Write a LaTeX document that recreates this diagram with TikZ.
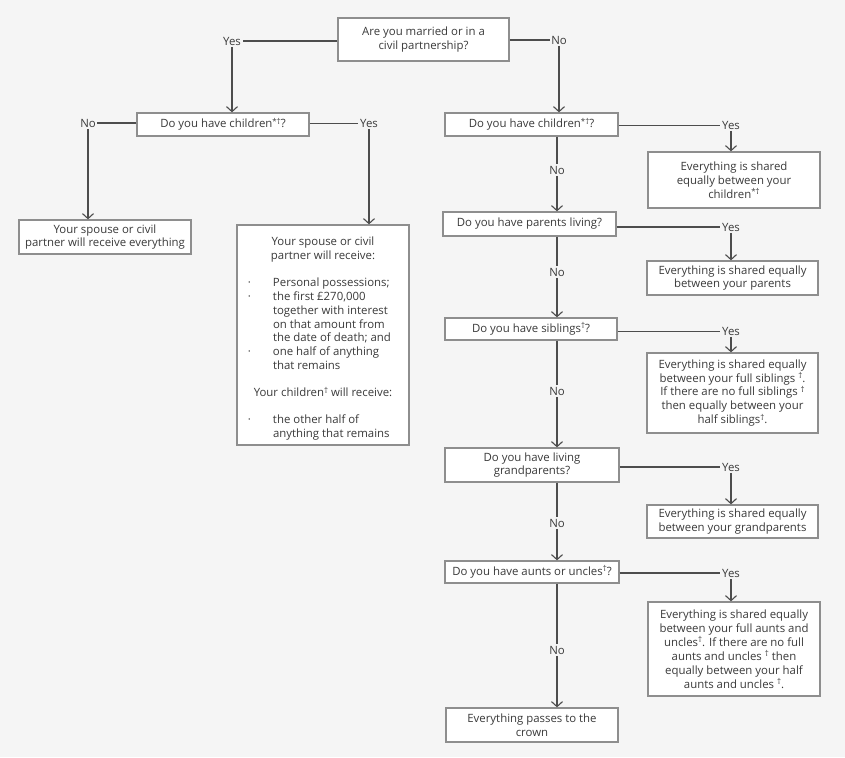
\documentclass[tikz,border=0pt]{standalone}
\usepackage{fontspec}
\setmainfont{Open Sans}
\usetikzlibrary{arrows.meta}
\definecolor{bg}{HTML}{F5F5F5}
\definecolor{lncol}{HTML}{4D4D4D}
\definecolor{bxcol}{HTML}{8E8E8E}
\definecolor{txcol}{HTML}{3A3A3A}
\newcommand\fsz{\fontsize{11.4}{13.9}\selectfont}
\newcommand\sdag{\raisebox{3.5pt}{\fontsize{8}{8}\selectfont †}}
\newcommand\sstar{\raisebox{3.5pt}{\fontsize{8}{8}\selectfont *†}}
\newcommand\bl{\leavevmode\llap{·\hspace{22pt}}}
\begin{document}
\begin{tikzpicture}[x=1pt,y=-1pt,
 box/.style={draw=bxcol, line width=1.3pt, fill=white, text=txcol, align=center, inner sep=1pt, font=\fsz},
 lbl/.style={text=txcol, inner sep=1.5pt, font=\fsz},
 thick line/.style={draw=lncol, line width=2pt},
 thin line/.style={draw=lncol, line width=1pt},
 arr/.style={draw=lncol, line width=2pt, -{Straight Barb[length=5pt,width=11pt,line width=1.1pt]}}]
\fill[bg] (0,0) rectangle (845,757);
\useasboundingbox (0,0) rectangle (845,757);

% boxes
\node[box, minimum width=171, minimum height=43] (top) at (423.5,39.5) {Are you married or in a\\civil partnership?};
\node[box, minimum width=172, minimum height=23] (lch) at (223,124.5) {Do you have children\sstar?};
\node[box, minimum width=172, minimum height=34] (lres) at (105,237) {Your spouse or civil\\partner will receive everything};
\node[box, minimum width=172, minimum height=220, inner sep=0pt] (big) at (323,335) {\begin{minipage}{172pt}\fsz\color{txcol}
\vspace*{7pt}
\centering Your spouse or civil\\ partner will receive:\par
\vspace{13pt}
{\raggedright\leftskip=36pt
\bl Personal possessions;\\
\bl the first £270,000\\
together with interest\\
on that amount from\\
the date of death; and\\
\bl one half of anything\\
that remains\par}
\vspace{13pt}
{\centering Your children\sdag{} will receive:\par}
\vspace{13pt}
{\raggedright\leftskip=36pt
\bl the other half of\\
anything that remains\par}
\end{minipage}};

\node[box, minimum width=173, minimum height=23] (rch) at (531.5,124.5) {Do you have children\sstar?};
\node[box, minimum width=172, minimum height=56] (rchres) at (734,180) {Everything is shared\\equally between your\\children\sstar};
\node[box, minimum width=173, minimum height=24] (par) at (529.5,224) {Do you have parents living?};
\node[box, minimum width=171, minimum height=34] (parres) at (732.5,278) {Everything is shared equally\\between your parents};
\node[box, minimum width=172, minimum height=22] (sib) at (531,329) {Do you have siblings\sdag?};
\node[box, minimum width=171, minimum height=80] (sibres) at (732.5,393) {Everything is shared equally\\between your full siblings \sdag.\\If there are no full siblings \sdag\\then equally between your\\half siblings\sdag.};
\node[box, minimum width=174, minimum height=34] (gp) at (532,465) {Do you have living\\grandparents?};
\node[box, minimum width=171, minimum height=33] (gpres) at (732.5,521.5) {Everything is shared equally\\between your grandparents};
\node[box, minimum width=174, minimum height=22] (au) at (532,572) {Do you have aunts or uncles\sdag?};
\node[box, minimum width=172, minimum height=94] (aures) at (734,649) {Everything is shared equally\\between your full aunts and\\uncles\sdag. If there are no full\\aunts and uncles \sdag{} then\\equally between your half\\aunts and uncles \sdag.};
\node[box, minimum width=172, minimum height=34] (crown) at (532,725) {Everything passes to the\\crown};

% labels
\node[lbl] (ytop) at (232,41) {Yes};
\node[lbl] (ntop) at (559,40) {No};
\node[lbl] (lno) at (88,123) {No};
\node[lbl] (lyes) at (369,123) {Yes};
\node[lbl] (y1) at (731,125) {Yes};
\node[lbl] (y2) at (731,227) {Yes};
\node[lbl] (y3) at (731,331) {Yes};
\node[lbl] (y4) at (731,467) {Yes};
\node[lbl] (y5) at (731,573) {Yes};
\node[lbl] (n1) at (557,170) {No};
\node[lbl] (n2) at (557,272) {No};
\node[lbl] (n3) at (557,391) {No};
\node[lbl] (n4) at (557,523) {No};
\node[lbl] (n5) at (557,650) {No};

% connectors
\draw[thick line] (top.west |- ytop) -- (ytop.east);
\draw[arr] (ytop.south) -- (ytop.south |- lch.north);
\draw[thick line] (top.east |- ntop) -- (ntop.west);
\draw[arr] (ntop.south) -- (ntop.south |- rch.north);

\draw[thick line] (lch.west |- lno) -- (lno.east);
\draw[arr] (lno.south) -- (lno.south |- lres.north);
\draw[thin line] (lch.east |- lyes) -- (lyes.west);
\draw[arr] (lyes.south) -- (lyes.south |- big.north);

\draw[thin line] (rch.east |- y1) -- (y1.west);
\draw[arr] (y1.south) -- (y1.south |- rchres.north);
\draw[thick line] (par.east |- y2) -- (y2.west);
\draw[arr] (y2.south) -- (y2.south |- parres.north);
\draw[thin line] (sib.east |- y3) -- (y3.west);
\draw[arr] (y3.south) -- (y3.south |- sibres.north);
\draw[thick line] (gp.east |- y4) -- (y4.west);
\draw[arr] (y4.south) -- (y4.south |- gpres.north);
\draw[thick line] (au.east |- y5) -- (y5.west);
\draw[arr] (y5.south) -- (y5.south |- aures.north);

\draw[thick line] (rch.south -| n1) -- (n1.north);
\draw[arr] (n1.south) -- (n1.south |- par.north);
\draw[thick line] (par.south -| n2) -- (n2.north);
\draw[arr] (n2.south) -- (n2.south |- sib.north);
\draw[thick line] (sib.south -| n3) -- (n3.north);
\draw[arr] (n3.south) -- (n3.south |- gp.north);
\draw[thick line] (gp.south -| n4) -- (n4.north);
\draw[arr] (n4.south) -- (n4.south |- au.north);
\draw[thick line] (au.south -| n5) -- (n5.north);
\draw[arr] (n5.south) -- (n5.south |- crown.north);
\end{tikzpicture}
\end{document}
